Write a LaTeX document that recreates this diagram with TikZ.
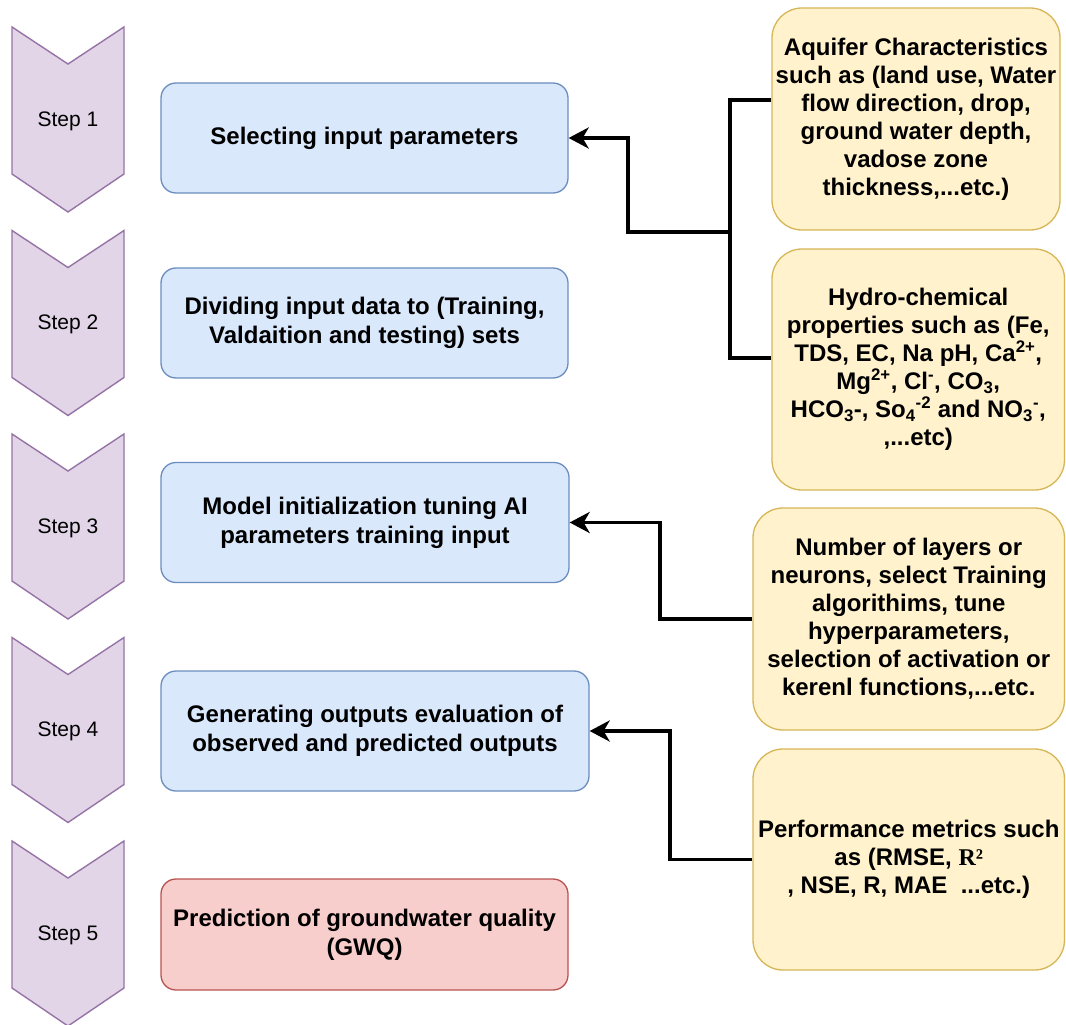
\documentclass[tikz,border=0pt]{standalone}
\usepackage{fontspec}
\setmainfont{Liberation Sans}
\newfontfamily\serifR{Liberation Serif}
\usetikzlibrary{arrows.meta,calc}

\definecolor{stepfill}{HTML}{E1D5E7}
\definecolor{stepdraw}{HTML}{9673A6}
\definecolor{bluefill}{HTML}{DAE8FC}
\definecolor{bluedraw}{HTML}{6C8EBF}
\definecolor{yelfill}{HTML}{FFF2CC}
\definecolor{yeldraw}{HTML}{D6B656}
\definecolor{redfill}{HTML}{F8CECC}
\definecolor{reddraw}{HTML}{B85450}

\begin{document}
\begin{tikzpicture}[x=1pt,y=-1pt,
  chev/.style={fill=stepfill,draw=stepdraw,line width=1.4pt,line join=miter},
  steplabel/.style={font=\fontsize{21}{25}\selectfont,inner sep=0pt},
  stagebox/.style={rectangle,rounded corners=15pt,draw=bluedraw,fill=bluefill,
    line width=1.3pt,align=center,inner sep=0pt,
    font=\fontsize{24}{29}\selectfont\bfseries},
  resultbox/.style={stagebox,draw=reddraw,fill=redfill},
  infobox/.style={rectangle,rounded corners=30pt,draw=yeldraw,fill=yelfill,
    line width=1.3pt,align=center,inner sep=0pt,
    font=\fontsize{24}{28}\selectfont\bfseries},
  wire/.style={line width=3.6pt,black},
  arr/.style={wire,-{Stealth[length=20pt,width=21pt,inset=6pt]}}
]
\fill[white] (0,0) rectangle (1066,1025);
\useasboundingbox (0,0) rectangle (1066,1025);

% step chevrons
\foreach \i/\t in {1/27,2/230.5,3/434,4/637.5,5/841}{
  \draw[chev] (12,\t) -- (68,{\t+37}) -- (124,\t) -- (124,{\t+147})
    -- (68,{\t+185}) -- (12,{\t+147}) -- cycle;
  \node[steplabel] (step\i) at (68,{\t+94}) {Step \i};
}

% workflow stages
\node[stagebox,minimum width=407pt,minimum height=110pt] (b1) at (364.5,138)
  {Selecting input parameters};
\node[stagebox,minimum width=407pt,minimum height=110pt] (b2) at (364.5,323)
  {Dividing input data to (Training,\\Valdaition and testing) sets};
\node[stagebox,minimum width=408pt,minimum height=120pt] (b3) at (365,522.5)
  {Model initialization tuning AI\\parameters training input};
\node[stagebox,minimum width=428pt,minimum height=120pt] (b4) at (375,731)
  {Generating outputs evaluation of\\observed and predicted outputs};
\node[resultbox,minimum width=407pt,minimum height=111pt] (b5) at (364.5,934.5)
  {Prediction of groundwater quality\\(GWQ)};

% inputs to the stages
\node[infobox,minimum width=288pt,minimum height=222pt] (A) at (916,119)
  {Aquifer Characteristics\\such as (land use, Water\\flow direction, drop,\\ground water depth,\\vadose zone\\thickness,...etc.)};
\node[infobox,minimum width=292.5pt,minimum height=241pt] (B) at (918.25,369.5)
  {Hydro-chemical\\properties such as (Fe,\\TDS, EC, Na pH, Ca\textsuperscript{2+},\\Mg\textsuperscript{2+}, Cl\textsuperscript{-}, CO\textsubscript{3},\\HCO\textsubscript{3}-, So\textsubscript{4}\textsuperscript{-2} and NO\textsubscript{3}\textsuperscript{-},\\,...etc)};
\node[infobox,minimum width=311.5pt,minimum height=222pt] (C) at (908.75,619)
  {Number of layers or\\neurons, select Training\\algorithims, tune\\hyperparameters,\\selection of activation or\\kerenl functions,...etc.};
\node[infobox,minimum width=311.5pt,minimum height=221pt] (D) at (908.75,859.5)
  {Performance metrics such\\as (RMSE, {\serifR R²}\\, NSE, R, MAE\ \ ...etc.)};

% connectors
\coordinate (j1) at (730,232);
\coordinate (j2) at (628,232);
\coordinate (k3) at (660,0);
\coordinate (k4) at (670,0);
\draw[wire] ([yshift=19pt]A.west) -| (j1);
\draw[wire] ([yshift=11.5pt]B.west) -| (j1);
\draw[arr] (j1) -- (j2) |- (b1.east);
\draw[arr] (C.west) -- (C.west -| k3) |- (b3.east);
\draw[arr] (D.west) -- (D.west -| k4) |- (b4.east);
\end{tikzpicture}
\end{document}
